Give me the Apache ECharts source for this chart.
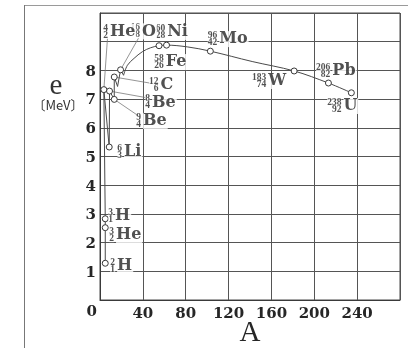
<!DOCTYPE html>
<html>
<head>
<meta charset="utf-8">
<script src="https://cdn.jsdelivr.net/npm/echarts@6/dist/echarts.min.js"></script>
<style>
html,body{margin:0;padding:0;background:#fff}
#main{width:408px;height:348px}
</style>
</head>
<body>
<div id="main"></div>
<script>
// light nuclei, joined by straight segments (A, e [MeV])
var lightA = [4.9, 4.9, 4.9, 3.6, 8.6, 8.9, 13.3, 13.3, 16.4, 19.2, 22];
var lightE = [1.28, 2.52, 2.83, 7.33, 5.33, 7.28, 6.99, 7.77, 7.44, 8.02, 7.83];
var lightMark = [1, 1, 1, 1, 1, 1, 1, 1, 0, 1, 0];

// heavier nuclei, smooth curve
var heavyA = [22, 25.6, 31.8, 39.5, 47.3, 55.1, 62.1, 81.4, 103, 142, 181.2, 213.2, 234.6];
var heavyE = [7.83, 8.18, 8.42, 8.65, 8.79, 8.86, 8.88, 8.82, 8.67, 8.31, 7.98, 7.56, 7.22];
var heavyMark = [0, 0, 0, 0, 0, 1, 1, 0, 1, 0, 1, 1, 1];

// nuclide labels
var nucSym  = ['He', 'O', 'Ni', 'Fe', 'C', 'Be', 'Be', 'Li', 'H', 'He', 'H', 'Mo', 'W', 'Pb', 'U'];
var nucMass = [4, 16, 60, 58, 12, 8, 9, 6, 3, 3, 2, 96, 183, 206, 238];
var nucZ    = [2, 8, 28, 26, 6, 4, 4, 3, 1, 2, 1, 42, 74, 82, 92];
var nucAt   = [[8.9, 9.34], [38.8, 9.36], [62.2, 9.34], [60.8, 8.29], [56, 7.49], [48.1, 6.88],
               [39.7, 6.24], [22, 5.17], [13.6, 2.94], [14.5, 2.26], [15.5, 1.2],
               [110.8, 9.09], [156.6, 7.63], [216.4, 7.98], [226.7, 6.76]];

// leader lines label -> point
var leaders = [
    [[7.0, 9.13], [3.6, 7.33]],
    [[36, 9.13], [19.2, 8.02]],
    [[13.3, 7.77], [47.9, 7.55]],
    [[8.9, 7.28], [43.2, 7.05]],
    [[13.3, 6.99], [36.9, 6.39]]
];

var xTicks = [0, 40, 80, 120, 160, 200, 240];
var yTicks = [1, 2, 3, 4, 5, 6, 7, 8];

var serif = '"DejaVu Serif", serif';
var ink = '#262626';

function pts(xs, ys, marks) {
    return xs.map(function (x, i) {
        var d = { value: [x, ys[i]] };
        if (!marks[i]) d.symbol = 'none';
        return d;
    });
}

var myChart = echarts.init(document.getElementById('main'));

var option = {
    backgroundColor: '#fff',
    animation: false,
    grid: {
        left: 100,
        top: 13,
        width: 300,
        height: 287,
        outerBoundsMode: 'none',
        containLabel: false,
        show: true,
        borderColor: '#4a4a4a',
        borderWidth: 1
    },
    xAxis: {
        type: 'value',
        min: 0,
        max: 280,
        interval: 40,
        name: 'A',
        nameLocation: 'middle',
        nameGap: 19,
        nameMoveOverlap: false,
        nameTextStyle: { fontFamily: '"Liberation Serif", serif', fontSize: 29, color: ink },
        axisLine: { lineStyle: { color: '#3a3a3a' } },
        axisTick: { show: false },
        axisLabel: {
            margin: 4,
            fontFamily: serif,
            fontWeight: 'bold',
            fontSize: 15,
            color: ink,
            alignMinLabel: 'right',
            formatter: function (v) {
                if (v === 0) return '{z|0}';
                return xTicks.indexOf(v) >= 0 ? '{s| }\n{n|' + v + '}' : '';
            },
            rich: {
                s: { fontSize: 1, lineHeight: 2 },
                z: { fontFamily: serif, fontWeight: 'bold', fontSize: 15, lineHeight: 16, color: ink, padding: [0, 3, 0, 0] },
                n: { fontFamily: serif, fontWeight: 'bold', fontSize: 15, lineHeight: 16, color: ink }
            }
        },
        splitLine: { lineStyle: { color: '#555' } }
    },
    yAxis: {
        type: 'value',
        min: 0,
        max: 10,
        interval: 1,
        axisLine: { lineStyle: { color: '#3a3a3a' } },
        axisTick: { show: false },
        axisLabel: {
            margin: 4,
            fontFamily: serif,
            fontWeight: 'bold',
            fontSize: 15,
            color: ink,
            formatter: function (v) {
                return yTicks.indexOf(v) >= 0 ? '{s| }\n{n|' + v + '}' : '';
            },
            rich: {
                s: { fontSize: 1, lineHeight: 3 },
                n: { fontFamily: serif, fontWeight: 'bold', fontSize: 15, lineHeight: 16, color: ink }
            }
        },
        splitLine: { lineStyle: { color: '#555' } }
    },
    graphic: [
        { type: 'line', shape: { x1: 24, y1: 5.5, x2: 408, y2: 5.5 }, style: { stroke: '#9a9a9a', lineWidth: 1 } },
        { type: 'line', shape: { x1: 24.5, y1: 5, x2: 24.5, y2: 348 }, style: { stroke: '#777', lineWidth: 1 } },
        { type: 'text', x: 56, y: 86, style: { text: 'e', font: '29px "Liberation Serif"', align: 'center', verticalAlign: 'middle', fill: '#333' } },
        { type: 'text', x: 58, y: 105, style: { text: '〔MeV〕', font: '13px "Noto Sans CJK JP"', align: 'center', verticalAlign: 'middle', fill: '#333' } }
    ],
    series: [
        {
            type: 'lines',
            coordinateSystem: 'cartesian2d',
            silent: true,
            lineStyle: { color: '#7a7a7a', width: 0.8, opacity: 1 },
            data: leaders.map(function (c) { return { coords: c }; })
        },
        {
            type: 'line',
            data: pts(lightA, lightE, lightMark),
            symbol: 'circle',
            symbolSize: 6,
            lineStyle: { color: '#4a4a4a', width: 1 },
            itemStyle: { color: '#fff', borderColor: '#3a3a3a', borderWidth: 1 }
        },
        {
            type: 'line',
            smooth: 0.35,
            data: pts(heavyA, heavyE, heavyMark),
            symbol: 'circle',
            symbolSize: 6,
            lineStyle: { color: '#4a4a4a', width: 1 },
            itemStyle: { color: '#fff', borderColor: '#3a3a3a', borderWidth: 1 }
        },
        {
            // mass / atomic numbers
            type: 'scatter',
            symbolSize: 1,
            itemStyle: { color: 'rgba(0,0,0,0)' },
            z: 5,
            data: nucAt.map(function (p, i) { return { value: p, mass: nucMass[i], z: nucZ[i] }; }),
            label: {
                show: true,
                position: 'left',
                distance: 1,
                backgroundColor: '#fff',
                formatter: function (p) {
                    return '{m|' + p.data.mass + '}\n{m|' + p.data.z + '}';
                },
                rich: {
                    m: { fontFamily: '"Liberation Serif", serif', fontWeight: 'bold', fontSize: 9.5, lineHeight: 7, align: 'right', color: ink }
                }
            }
        },
        {
            // element symbols
            type: 'scatter',
            symbolSize: 1,
            itemStyle: { color: 'rgba(0,0,0,0)' },
            z: 5,
            data: nucAt.map(function (p, i) { return { value: p, sym: nucSym[i] }; }),
            label: {
                show: true,
                position: 'right',
                distance: 0,
                backgroundColor: '#fff',
                padding: [0, 1, 0, 0],
                fontFamily: serif,
                fontWeight: 'bold',
                fontSize: 16,
                color: ink,
                formatter: function (p) { return p.data.sym; }
            }
        }
    ]
};

myChart.setOption(option);
</script>
</body>
</html>
